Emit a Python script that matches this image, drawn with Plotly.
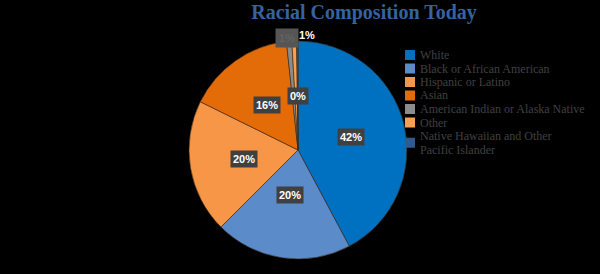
import math
import plotly.graph_objects as go

categories = ["White", "Black or African American", "Hispanic or Latino", "Asian",
              "American Indian or Alaska Native", "Other",
              "Native Hawaiian and Other Pacific Islander"]
legend_lines = [["White"], ["Black or African American"], ["Hispanic or Latino"], ["Asian"],
                ["American Indian or Alaska Native"], ["Other"],
                ["Native Hawaiian and Other", "Pacific Islander"]]
values = [42.2, 20.3, 19.8, 16.0, 0.8, 0.7, 0.2]
colors = ["#0070C0", "#5B8BC9", "#F79646", "#E36C09", "#8C8C8C", "#F7A050", "#2E5C92"]

W, H = 600, 274
cx, cy, R = 298, 150, 109  # pie centre and radius in px

fig = go.Figure(go.Pie(
    labels=categories, values=values, sort=False, direction="clockwise", rotation=0,
    marker=dict(colors=colors, line=dict(color="#3a2a1a", width=0.6)),
    textinfo="none", hoverinfo="label+percent", showlegend=False,
    domain=dict(x=[(cx - R) / W, (cx + R) / W], y=[1 - (cy + R) / H, 1 - (cy - R) / H]),
))

annotations = []
total = sum(values)
cum = 0.0
outside_shift = {4: -1, 5: 13}
for i, v in enumerate(values):
    mid = (cum + v / 2) / total * 2 * math.pi
    cum += v
    pct = round(v / total * 100)
    if i < 4 or i == 6:
        r = 0.5 * R
        x = cx + r * math.sin(mid)
        y = cy - r * math.cos(mid)
        annotations.append(dict(x=x / W, y=1 - y / H, xref="paper", yref="paper",
                                text=f"<b>{pct}%</b>", showarrow=False,
                                font=dict(family="Liberation Sans", size=11, color="white"),
                                bgcolor="#404040", borderpad=2))
    else:
        r = 1.12 * R
        x = cx + r * math.sin(mid) + outside_shift[i]
        y = cy - r * math.cos(mid)
        hidden = i == 4
        annotations.append(dict(x=x / W, y=1 - y / H, xref="paper", yref="paper",
                                text=f"<b>{pct}%</b>", showarrow=False,
                                font=dict(family="Liberation Sans", size=11,
                                          color="#626262" if hidden else "white"),
                                bgcolor="#555555" if hidden else "rgba(0,0,0,0)",
                                borderpad=3 if hidden else 0))

# manual legend
shapes = []
y_pos = 55
for lines, col in zip(legend_lines, colors):
    ys = [y_pos + 13.5 * k for k in range(len(lines))]
    mid_y = sum(ys) / len(ys)
    shapes.append(dict(type="rect", xref="paper", yref="paper",
                       x0=405 / W, x1=415 / W, y0=1 - (mid_y + 5) / H, y1=1 - (mid_y - 5) / H,
                       fillcolor=col, line=dict(width=0)))
    for txt, ly in zip(lines, ys):
        annotations.append(dict(x=418 / W, y=1 - ly / H, xref="paper", yref="paper",
                                xanchor="left", yanchor="middle", align="left",
                                text=txt, showarrow=False,
                                font=dict(family="Liberation Serif", size=12, color="#404040")))
    y_pos = ys[-1] + 13.5

fig.update_layout(
    width=W, height=H, margin=dict(l=0, r=0, t=0, b=0),
    paper_bgcolor="black", plot_bgcolor="black",
    title=dict(text="<b>Racial Composition Today</b>", x=364 / W, xanchor="center",
               y=1 - 12 / H, yanchor="middle",
               font=dict(family="Liberation Serif", size=20, color="#34639F")),
    annotations=annotations, shapes=shapes,
)

fig.write_html("out.html")
